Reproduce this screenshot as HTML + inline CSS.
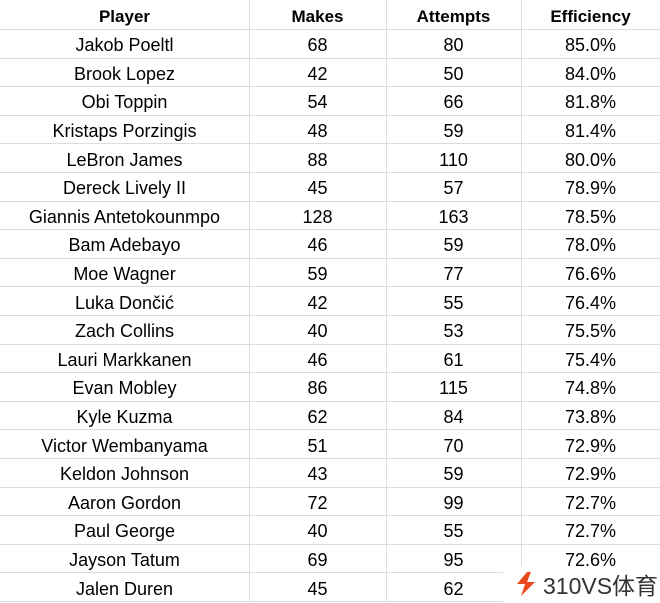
<!DOCTYPE html>
<html><head><style>
body{margin:0;width:660px;height:602px;overflow:hidden;background:#fff;font-family:"Liberation Sans",Arial,sans-serif;position:relative}
.r{position:absolute;left:0;width:660px;border-bottom:1px solid #dcdcdc;font-size:18px;color:#000}
.c{position:absolute;top:2px;height:100%;display:flex;align-items:center;justify-content:center}
.c1{left:0;width:249px}.c2{left:249px;width:137px}.c3{left:386px;width:135px}.c4{left:521px;width:139px}
.v{position:absolute;top:0;height:602px;width:1px;background:#dcdcdc}
.h{font-weight:bold;font-size:17px}
.wm{position:absolute;left:503px;top:566px;width:157px;height:36px;background:#fff;display:flex;align-items:center;font-size:23px;color:#333;font-family:"Liberation Sans","Noto Sans CJK SC",sans-serif}
</style></head><body>
<div class="v" style="left:249px"></div><div class="v" style="left:386px"></div><div class="v" style="left:521px"></div>
<div id="t"></div>
<div class="wm"><svg width="26" height="28" viewBox="0 0 26 28" style="margin:0 4px 0 10px"><path d="M14 2 L4 14 L12 14 L8 26 L22 12 L14 12 L18 2Z" fill="#e84a1c"/></svg>310VS体育</div>
<script>
var d=[["Player","Makes","Attempts","Efficiency"],["Jakob Poeltl",68,80,"85.0%"],["Brook Lopez",42,50,"84.0%"],["Obi Toppin",54,66,"81.8%"],["Kristaps Porzingis",48,59,"81.4%"],["LeBron James",88,110,"80.0%"],["Dereck Lively II",45,57,"78.9%"],["Giannis Antetokounmpo",128,163,"78.5%"],["Bam Adebayo",46,59,"78.0%"],["Moe Wagner",59,77,"76.6%"],["Luka Dončić",42,55,"76.4%"],["Zach Collins",40,53,"75.5%"],["Lauri Markkanen",46,61,"75.4%"],["Evan Mobley",86,115,"74.8%"],["Kyle Kuzma",62,84,"73.8%"],["Victor Wembanyama",51,70,"72.9%"],["Keldon Johnson",43,59,"72.9%"],["Aaron Gordon",72,99,"72.7%"],["Paul George",40,55,"72.7%"],["Jayson Tatum",69,95,"72.6%"],["Jalen Duren",45,62,"72.5%"]];
var h="";d.forEach(function(r,i){var top=i==0?0:30+(i-1)*28.6,ht=i==0?30:28.6;
h+='<div class="r'+(i==0?' h':'')+'" style="top:'+top+'px;height:'+(ht-1)+'px">';
r.forEach(function(v,j){h+='<div class="c c'+(j+1)+'">'+v+'</div>'});h+='</div>'});
document.getElementById("t").innerHTML=h;
</script>
</body></html>
